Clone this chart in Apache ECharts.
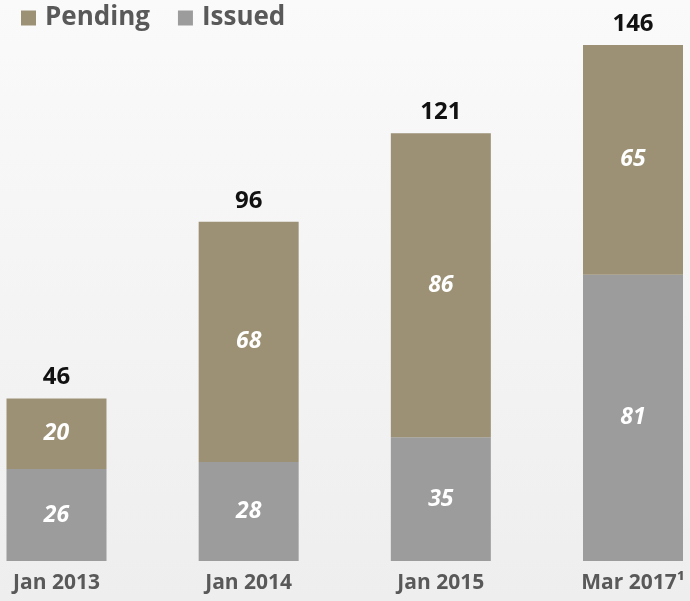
<!DOCTYPE html>
<html>
<head>
<meta charset="utf-8">
<script src="https://cdn.jsdelivr.net/npm/echarts@6/dist/echarts.min.js"></script>
<style>
html,body{margin:0;padding:0;width:690px;height:601px;overflow:hidden;background:#f4f4f4;}
#c{width:690px;height:601px;}
</style>
</head>
<body>
<div id="c"></div>
<script>
var categories = ['Jan 2013', 'Jan 2014', 'Jan 2015', 'Mar 2017\u00B9'];
var issued = [26, 28, 35, 81];
var pending = [20, 68, 86, 65];
var totals = [46, 96, 121, 146];

var chart = echarts.init(document.getElementById('c'));
var font = '"Open Sans", Lato, sans-serif';
chart.setOption({
  backgroundColor: {
    type: 'linear', x: 0, y: 0, x2: 0, y2: 1,
    colorStops: [{offset: 0, color: '#fafafa'}, {offset: 1, color: '#eeeeee'}]
  },
  animation: false,
  legend: {
    left: 16, top: 0,
    itemWidth: 15, itemHeight: 15, itemGap: 28,
    icon: 'rect',
    data: ['Pending', 'Issued'],
    textStyle: {fontFamily: font, fontWeight: 'bold', fontSize: 26, color: '#595959', padding: [0, 0, 0, 4]}
  },
  grid: {left: 56.5, right: 57, top: 45, bottom: 40, containLabel: false},
  xAxis: {
    type: 'category', data: categories, boundaryGap: false,
    axisLine: {show: false}, axisTick: {show: false}, splitLine: {show: false},
    axisLabel: {margin: 12, fontFamily: font, fontWeight: 'bold', fontSize: 21, color: '#595959'}
  },
  yAxis: {type: 'value', min: 0, max: 146, show: false, splitLine: {show: false}},
  series: [
    {
      name: 'Issued', type: 'bar', stack: 'a', data: issued, barWidth: 100,
      itemStyle: {color: '#9c9c9c'},
      label: {show: true, position: 'inside', color: '#ffffff', fontFamily: font, fontWeight: 'bold', fontStyle: 'italic', fontSize: 23}
    },
    {
      name: 'Pending', type: 'bar', stack: 'a', data: pending, barWidth: 100,
      itemStyle: {color: '#9c9174'},
      label: {show: true, position: 'inside', color: '#ffffff', fontFamily: font, fontWeight: 'bold', fontStyle: 'italic', fontSize: 23}
    },
    {
      name: 'Total', type: 'bar', data: totals, barWidth: 100, barGap: '-100%', z: 0,
      itemStyle: {color: 'rgba(0,0,0,0)'}, silent: true,
      label: {show: true, position: 'top', distance: 9, color: '#111111', fontFamily: font, fontWeight: 'bold', fontSize: 24}
    }
  ]
});
</script>
</body>
</html>
